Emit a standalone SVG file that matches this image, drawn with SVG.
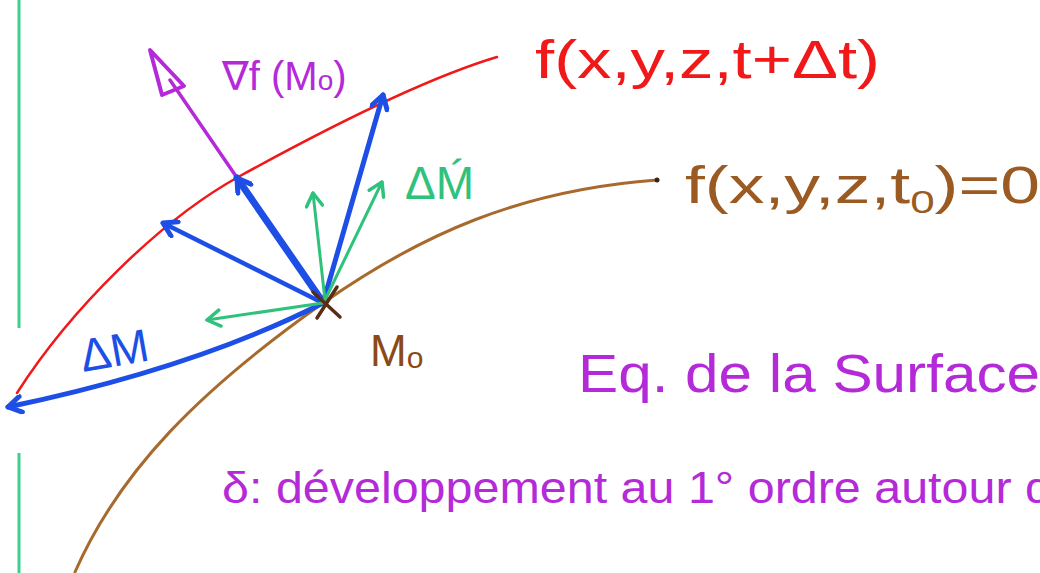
<svg xmlns="http://www.w3.org/2000/svg" width="1040" height="573" viewBox="0 0 1040 573">
<defs>
<style>
.t{font-family:"Liberation Sans","DejaVu Sans",sans-serif}
.blue{stroke:#1d4fe6;fill:none;stroke-linecap:round;stroke-linejoin:round}
.green{stroke:#2fc27c;fill:none;stroke-width:3;stroke-linecap:round;stroke-linejoin:round}
</style>
<marker id="ab" viewBox="-16 -10 20 20" markerWidth="20" markerHeight="20" refX="0" refY="0" orient="auto" markerUnits="userSpaceOnUse">
<path d="M -13 -8 L 0 0 L -13 8" fill="none" stroke="#1d4fe6" stroke-width="5" stroke-linecap="round" stroke-linejoin="round"/>
</marker>
<marker id="ag" viewBox="-16 -10 20 20" markerWidth="20" markerHeight="20" refX="0" refY="0" orient="auto" markerUnits="userSpaceOnUse">
<path d="M -13 -8 L 0 0 L -13 8" fill="none" stroke="#2fc27c" stroke-width="3.5" stroke-linecap="round" stroke-linejoin="round"/>
</marker>
</defs>
<rect width="1040" height="573" fill="#ffffff"/>
<g id="margin">
<line x1="19" y1="0" x2="19" y2="328" stroke="#3ccf8e" stroke-width="3"/>
<line x1="19" y1="453" x2="19" y2="573" stroke="#3ccf8e" stroke-width="3"/>
</g>
<g id="surface-t-dt">
<path d="M 17 393 C 70 310, 160 220, 240 176 S 420 80, 497 57" fill="none" stroke="#f01818" stroke-width="2.5" stroke-linecap="round"/>
<text class="t" x="535" y="78" font-size="54" fill="#f01818" textLength="345" lengthAdjust="spacingAndGlyphs">f(x,y,z,t+Δt)</text>
</g>
<g id="surface-t0">
<path d="M 75 572 C 120 470, 200 390, 323 303 C 420 235, 520 190, 657 180" fill="none" stroke="#a8692c" stroke-width="3" stroke-linecap="round"/>
<circle cx="657" cy="180" r="2.5" fill="#3a2410"/>
<text class="t" x="685" y="203" font-size="52" fill="#9a5a22" textLength="355" lengthAdjust="spacingAndGlyphs">f(x,y,z,t<tspan font-size="32" dy="10">0</tspan><tspan dy="-10">)=0</tspan></text>
</g>
<g id="connectors">
<line x1="323" y1="303" x2="170" y2="80" stroke="#b42ad8" stroke-width="3.5" stroke-linecap="round"/>
<polygon points="150,50 162,95 184,86" fill="none" stroke="#b42ad8" stroke-width="4" stroke-linejoin="round"/>
<line class="blue" x1="320" y1="298" x2="237" y2="178" stroke-width="7" marker-end="url(#ab)"/>
<line class="blue" x1="323" y1="303" x2="383" y2="95" stroke-width="5" marker-end="url(#ab)"/>
<line class="blue" x1="323" y1="303" x2="163" y2="223" stroke-width="4.5" marker-end="url(#ab)"/>
<path class="blue" d="M 323 303 Q 195 368, 8 407" stroke-width="5" marker-end="url(#ab)"/>
<line class="green" x1="325" y1="300" x2="313" y2="193" marker-end="url(#ag)"/>
<line class="green" x1="325" y1="300" x2="382" y2="182" marker-end="url(#ag)"/>
<line class="green" x1="323" y1="303" x2="207" y2="320" marker-end="url(#ag)"/>
</g>
<g id="M0">
<line x1="313" y1="292" x2="340" y2="317" stroke="#5a2c12" stroke-width="3.5" stroke-linecap="round"/>
<line x1="337" y1="287" x2="317" y2="318" stroke="#5a2c12" stroke-width="3.5" stroke-linecap="round"/>
<text class="t" x="370" y="366" font-size="44" fill="#8a4a18">M<tspan font-size="30" dy="2">o</tspan></text>
</g>
<g id="grad-label">
<text class="t" x="222" y="90" font-size="40" fill="#b42ad8">∇f (M<tspan font-size="28">o</tspan>)</text>
</g>
<g id="dM-label">
<text class="t" x="83" y="372" font-size="46" fill="#1d4fe6" transform="rotate(-10 83 372)">ΔM</text>
</g>
<g id="dM2-label">
<text class="t" x="405" y="199" font-size="46" fill="#2fc27c">ΔḾ</text>
</g>
<g id="eq">
<text class="t" x="578" y="392" font-size="54" fill="#b42ad8" textLength="462" lengthAdjust="spacingAndGlyphs">Eq. de la Surface</text>
</g>
<g id="dev">
<text class="t" x="222" y="503" font-size="44" fill="#b42ad8" textLength="830" lengthAdjust="spacingAndGlyphs">δ: développement au 1° ordre autour d</text>
</g>
</svg>
